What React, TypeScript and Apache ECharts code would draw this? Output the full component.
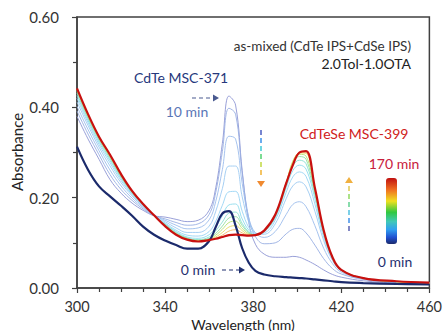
import React, { useEffect, useRef } from "react";
import * as echarts from "echarts";

const wavelengths = [300, 305, 310, 315, 320, 325, 330, 335, 340, 345, 350, 355, 360, 363, 366, 369, 372, 375, 378, 381, 385, 390, 395, 398, 401, 404, 408, 412, 416, 420, 430, 445, 460];

const times = [0, 10, 20, 30, 40, 50, 60, 70, 80, 100, 120, 140, 170];

const abs0 = [0.313, 0.262, 0.225, 0.203, 0.182, 0.16, 0.136, 0.118, 0.105, 0.095, 0.087, 0.087, 0.104, 0.135, 0.165, 0.17, 0.138, 0.088, 0.056, 0.038, 0.03, 0.026, 0.024, 0.023, 0.022, 0.021, 0.019, 0.017, 0.015, 0.013, 0.011, 0.009, 0.008];
const abs10 = [0.38, 0.33, 0.285, 0.24, 0.21, 0.188, 0.172, 0.16, 0.157, 0.152, 0.147, 0.15, 0.172, 0.222, 0.32, 0.425, 0.405, 0.26, 0.145, 0.097, 0.075, 0.068, 0.068, 0.07, 0.068, 0.062, 0.052, 0.04, 0.03, 0.024, 0.016, 0.011, 0.009];
const abs20 = [0.392, 0.341, 0.295, 0.251, 0.218, 0.194, 0.175, 0.16, 0.153, 0.145, 0.139, 0.142, 0.163, 0.212, 0.302, 0.398, 0.385, 0.255, 0.155, 0.114, 0.098, 0.1, 0.12, 0.13, 0.132, 0.122, 0.095, 0.065, 0.043, 0.031, 0.019, 0.012, 0.01];
const abs30 = [0.402, 0.351, 0.304, 0.261, 0.226, 0.199, 0.178, 0.16, 0.15, 0.139, 0.131, 0.133, 0.151, 0.192, 0.262, 0.336, 0.33, 0.232, 0.155, 0.122, 0.112, 0.125, 0.163, 0.185, 0.191, 0.18, 0.138, 0.088, 0.054, 0.035, 0.02, 0.013, 0.01];
const abs40 = [0.412, 0.36, 0.312, 0.27, 0.233, 0.204, 0.18, 0.16, 0.147, 0.133, 0.123, 0.123, 0.137, 0.17, 0.22, 0.27, 0.27, 0.202, 0.146, 0.122, 0.119, 0.142, 0.198, 0.226, 0.235, 0.224, 0.17, 0.105, 0.061, 0.038, 0.021, 0.014, 0.011];
const abs50 = [0.42, 0.366, 0.318, 0.277, 0.238, 0.207, 0.182, 0.16, 0.144, 0.128, 0.117, 0.115, 0.125, 0.148, 0.183, 0.213, 0.214, 0.17, 0.134, 0.12, 0.122, 0.15, 0.212, 0.246, 0.257, 0.247, 0.186, 0.113, 0.064, 0.039, 0.021, 0.014, 0.011];
const abs60 = [0.426, 0.371, 0.323, 0.282, 0.242, 0.209, 0.183, 0.16, 0.142, 0.125, 0.113, 0.11, 0.118, 0.135, 0.16, 0.184, 0.186, 0.153, 0.128, 0.118, 0.124, 0.155, 0.222, 0.26, 0.272, 0.263, 0.198, 0.118, 0.066, 0.04, 0.022, 0.014, 0.011];
const abs70 = [0.431, 0.375, 0.327, 0.286, 0.245, 0.211, 0.184, 0.16, 0.141, 0.123, 0.111, 0.107, 0.113, 0.127, 0.146, 0.166, 0.168, 0.143, 0.124, 0.117, 0.125, 0.158, 0.227, 0.27, 0.283, 0.275, 0.206, 0.122, 0.067, 0.04, 0.022, 0.014, 0.011];
const abs80 = [0.435, 0.378, 0.33, 0.289, 0.247, 0.212, 0.185, 0.16, 0.14, 0.121, 0.11, 0.106, 0.11, 0.121, 0.137, 0.155, 0.158, 0.138, 0.122, 0.117, 0.126, 0.16, 0.23, 0.277, 0.291, 0.285, 0.212, 0.124, 0.067, 0.04, 0.022, 0.014, 0.011];
const abs100 = [0.438, 0.381, 0.332, 0.291, 0.249, 0.213, 0.185, 0.16, 0.139, 0.12, 0.109, 0.105, 0.108, 0.117, 0.13, 0.145, 0.148, 0.132, 0.12, 0.117, 0.126, 0.161, 0.232, 0.281, 0.296, 0.292, 0.215, 0.125, 0.067, 0.04, 0.022, 0.014, 0.011];
const abs120 = [0.44, 0.383, 0.333, 0.293, 0.25, 0.214, 0.186, 0.16, 0.138, 0.119, 0.108, 0.104, 0.107, 0.113, 0.123, 0.135, 0.138, 0.127, 0.118, 0.117, 0.127, 0.162, 0.233, 0.279, 0.299, 0.298, 0.218, 0.126, 0.068, 0.04, 0.022, 0.014, 0.011];
const abs140 = [0.441, 0.384, 0.334, 0.294, 0.251, 0.215, 0.186, 0.161, 0.137, 0.118, 0.107, 0.103, 0.106, 0.11, 0.117, 0.126, 0.129, 0.122, 0.117, 0.117, 0.127, 0.163, 0.234, 0.276, 0.3, 0.301, 0.22, 0.127, 0.068, 0.04, 0.022, 0.015, 0.012];
const abs170 = [0.442, 0.385, 0.335, 0.295, 0.252, 0.215, 0.186, 0.161, 0.137, 0.118, 0.107, 0.103, 0.106, 0.109, 0.113, 0.117, 0.118, 0.117, 0.116, 0.117, 0.127, 0.162, 0.232, 0.272, 0.3, 0.303, 0.222, 0.128, 0.068, 0.04, 0.022, 0.015, 0.012];

const spectra = [abs0, abs10, abs20, abs30, abs40, abs50, abs60, abs70, abs80, abs100, abs120, abs140, abs170];
const lineColors = ["#1b2a6b", "#8e96d4", "#98aee2", "#9cbcec", "#9ccaf2", "#98d4f4", "#8edcec", "#88e0d0", "#90e0a0", "#b8e070", "#e8dc60", "#f4b860", "#c81010"];

const xMin = 300, xMax = 460, xStep = 40;
const yMin = 0, yMax = 0.6, yStep = 0.2;

const FONT = "Lato";

function dashedArrow(x: number, yStart: number, yEnd: number, colors: string[], headColor: string) {
  const els: any[] = [];
  const dir = yEnd > yStart ? 1 : -1;
  const len = Math.abs(yEnd - yStart);
  const dash = 5, gap = 3;
  const n = Math.floor(len / (dash + gap));
  for (let i = 0; i < n; i++) {
    const a = yStart + dir * i * (dash + gap);
    const b = a + dir * dash;
    const c = colors[Math.min(colors.length - 1, Math.floor((i / n) * colors.length))];
    els.push({ type: "line", shape: { x1: x, y1: a, x2: x, y2: b }, style: { stroke: c, lineWidth: 1.5 }, silent: true });
  }
  const tip = yEnd + dir * 6;
  els.push({ type: "polygon", shape: { points: [[x - 4, yEnd], [x + 4, yEnd], [x, tip]] }, style: { fill: headColor }, silent: true });
  return els;
}

function hArrow(x1: number, x2: number, y: number, color: string) {
  const els: any[] = [];
  els.push({ type: "line", shape: { x1, y1: y, x2: x2 - 5, y2: y }, style: { stroke: color, lineWidth: 1.2, lineDash: [4, 3] }, silent: true });
  els.push({ type: "polygon", shape: { points: [[x2 - 6, y - 3.5], [x2 - 6, y + 3.5], [x2, y]] }, style: { fill: color }, silent: true });
  return els;
}

export default function App() {
  const ref = useRef<HTMLDivElement>(null);
  useEffect(() => {
    if (!ref.current) return;
    const chart = echarts.init(ref.current, null, { renderer: "svg" });
    const series: any[] = spectra.map((arr, k) => {
      const thick = k === 0 || k === spectra.length - 1;
      return {
        type: "line",
        name: times[k] + " min",
        data: wavelengths.map((w, i) => [w, arr[i]]),
        smooth: 0.4,
        showSymbol: false,
        symbol: "none",
        z: thick ? 5 : 2,
        lineStyle: { color: lineColors[k], width: thick ? 2.2 : 1, opacity: thick ? 1 : 0.9 },
      };
    });
    const downColors = ["#4a5cc0", "#3a90e8", "#40c8d8", "#50d070", "#c0d840", "#f0b030"];
    const upColors = ["#5a60b0", "#4090e8", "#50c0e0", "#60d090", "#90d860", "#e0c850"];
    const graphic: any[] = [
      { type: "text", x: 181, y: 77, style: { text: "CdTe MSC-371", fill: "#26387c", font: `14px ${FONT}`, align: "center", verticalAlign: "middle" } },
      { type: "text", x: 187, y: 111, style: { text: "10 min", fill: "#5a76b6", font: `14px ${FONT}`, align: "center", verticalAlign: "middle" } },
      ...hArrow(192, 219, 98, "#4a5a90"),
      { type: "text", x: 411, y: 46, style: { text: "as-mixed (CdTe IPS+CdSe IPS)", fill: "#333", font: `13.5px ${FONT}`, align: "right", verticalAlign: "middle" } },
      { type: "text", x: 411, y: 63, style: { text: "2.0Tol-1.0OTA", fill: "#222", font: `14px ${FONT}`, align: "right", verticalAlign: "middle" } },
      { type: "text", x: 354, y: 133, style: { text: "CdTeSe MSC-399", fill: "#d02020", font: `14px ${FONT}`, align: "center", verticalAlign: "middle" } },
      { type: "text", x: 394, y: 163, style: { text: "170 min", fill: "#c8203c", font: `14px ${FONT}`, align: "center", verticalAlign: "middle" } },
      {
        type: "rect", shape: { x: 386, y: 178, width: 11, height: 66, r: 3 },
        style: {
          fill: new echarts.graphic.LinearGradient(0, 0, 0, 1, [
            { offset: 0, color: "#c01010" },
            { offset: 0.18, color: "#f07020" },
            { offset: 0.35, color: "#f0e020" },
            { offset: 0.52, color: "#30c840" },
            { offset: 0.66, color: "#40c8b8" },
            { offset: 0.78, color: "#30a0f0" },
            { offset: 0.9, color: "#2050d0" },
            { offset: 1, color: "#1b2a6b" },
          ]),
        },
      },
      { type: "text", x: 395, y: 261, style: { text: "0 min", fill: "#1f2f6e", font: `14px ${FONT}`, align: "center", verticalAlign: "middle" } },
      { type: "text", x: 198, y: 269, style: { text: "0 min", fill: "#1f2f6e", font: `14px ${FONT}`, align: "center", verticalAlign: "middle" } },
      ...hArrow(222, 245, 270, "#1f2f6e"),
      ...dashedArrow(261, 130, 181, downColors, "#f08a30"),
      ...dashedArrow(349, 231, 183, upColors, "#f0b040"),
      { type: "text", x: 17, y: 152, rotation: Math.PI / 2, style: { text: "Absorbance", fill: "#222", font: `15px ${FONT}`, align: "center", verticalAlign: "middle" } },
      { type: "text", x: 243, y: 324, style: { text: "Wavelength (nm)", fill: "#222", font: `14px ${FONT}`, align: "center", verticalAlign: "middle" } },
    ];
    chart.setOption({
      animation: false,
      grid: { left: 77, right: 12, top: 17, bottom: 43, show: true, borderColor: "#404040", borderWidth: 1.5, backgroundColor: "transparent" },
      xAxis: {
        type: "value", min: xMin, max: xMax, interval: xStep,
        axisLine: { show: true, onZero: false, lineStyle: { color: "#404040", width: 1.5 } },
        axisTick: { show: true, inside: false, length: 5, lineStyle: { color: "#404040", width: 1.2 } },
        minorTick: { show: true, splitNumber: 4, length: 4, lineStyle: { color: "#404040", width: 1.2 } },
        splitLine: { show: false },
        axisLabel: { color: "#333", fontFamily: FONT, fontSize: 14.5, margin: 11 },
      },
      yAxis: {
        type: "value", min: yMin, max: yMax, interval: yStep,
        axisLine: { show: true, lineStyle: { color: "#404040", width: 1.5 } },
        axisTick: { show: true, inside: false, length: 5, lineStyle: { color: "#404040", width: 1.2 } },
        minorTick: { show: true, splitNumber: 2, length: 4, lineStyle: { color: "#404040", width: 1.2 } },
        splitLine: { show: false },
        axisLabel: { color: "#333", fontFamily: FONT, fontSize: 15, margin: 18, formatter: (v: number) => v.toFixed(2) },
      },
      series,
      graphic,
    });
    return () => chart.dispose();
  }, []);
  return <div ref={ref} style={{ position: "fixed", left: 0, top: 0, width: 445, height: 331, background: "#fff" }} />;
}
